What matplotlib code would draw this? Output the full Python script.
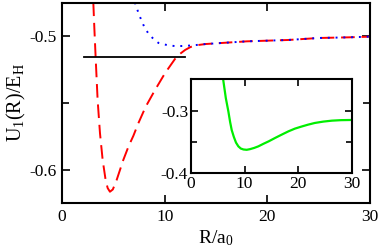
import matplotlib
matplotlib.use('Agg')
import matplotlib.pyplot as plt

plt.rcParams['font.family'] = ['Liberation Serif', 'DejaVu Serif']
plt.rcParams['mathtext.fontset'] = 'custom'
plt.rcParams['mathtext.rm'] = 'Liberation Serif'
plt.rcParams['mathtext.it'] = 'Liberation Serif:italic'

# red dashed curve (main panel)
r_red = [3.05, 3.15, 3.28, 3.47, 3.70, 3.96, 4.25, 4.45, 4.67, 4.95, 5.32,
         5.97, 6.5, 6.95, 7.43, 8.15, 9.06, 10.03, 11.0, 11.5, 12.0, 12.5,
         13, 14, 15, 16, 18, 20, 22, 25, 28, 30]
u_red = [-0.475, -0.494, -0.5166, -0.5478, -0.5726, -0.5925, -0.6075,
         -0.6135, -0.6162, -0.6145, -0.6075, -0.5925, -0.582, -0.5745,
         -0.5652, -0.5528, -0.5403, -0.5278, -0.5172, -0.5133, -0.5104,
         -0.5083, -0.507, -0.506, -0.5055, -0.505, -0.504, -0.5035, -0.503,
         -0.5015, -0.501, -0.5005]

# blue dotted curve (main panel)
r_blue = [7.1, 7.5, 8, 8.4, 9, 9.4, 9.9, 10.5, 11.2, 12, 13, 14, 15, 16,
          18, 20, 22, 25, 28, 30]
u_blue = [-0.475, -0.484, -0.493, -0.498, -0.503, -0.5052, -0.5062, -0.5072,
          -0.5076, -0.5074, -0.5068, -0.506, -0.5055, -0.505, -0.504,
          -0.5035, -0.503, -0.5015, -0.501, -0.5005]

# black horizontal level
r_level = [2.1, 12.0]
u_level = [-0.516, -0.516]

# green curve (inset)
r_green = [6.0, 6.2, 6.5, 6.97, 7.3, 7.6, 8.0, 8.4, 8.84, 9.3, 9.8, 10.4, 11,
           11.8, 12.57, 13.5, 14.5, 15.7, 17, 18.2, 19.4, 20.6, 21.8, 23.1,
           24.7, 26.3, 28, 30]
u_green = [-0.25, -0.262, -0.280, -0.301, -0.318, -0.331, -0.342, -0.351,
           -0.357, -0.3605, -0.362, -0.3625, -0.3615, -0.3595, -0.357, -0.353,
           -0.349, -0.3436, -0.338, -0.333, -0.3287, -0.3255, -0.3225,
           -0.3197, -0.3175, -0.316, -0.3152, -0.3149]

fig = plt.figure(figsize=(3.82, 2.48), dpi=100)
W, H = 382, 248
ax = fig.add_axes([62 / W, 1 - 203 / H, (370 - 62) / W, (203 - 3) / H])

ax.plot(r_red, u_red, color='red', lw=1.4, dashes=(7, 3.5))
ax.plot(r_blue, u_blue, color='blue', lw=1.4, dashes=(1, 3))
ax.plot(r_level, u_level, color='black', lw=1.3)

ax.set_xlim(0, 30)
ax.set_ylim(-0.6246, -0.4754)
ax.set_xticks([0, 10, 20, 30])
ax.set_yticks([-0.6, -0.5])
ax.set_yticks([-0.55], minor=True)
ax.set_yticklabels(['-0.6', '-0.5'])
ax.tick_params(which='both', direction='in', top=True, right=True,
               labelsize=12.5, width=1.2, pad=4)
ax.tick_params(which='major', length=6)
ax.tick_params(which='minor', length=5)
for s in ax.spines.values():
    s.set_linewidth(1.5)
ax.set_xlabel('R/a$_\\mathregular{0}$', fontsize=14, labelpad=3)
ax.set_ylabel('U$_\\mathregular{1}$(R)/E$_\\mathregular{H}$', fontsize=14.5,
              labelpad=1)

ins = fig.add_axes([191 / W, 1 - 173.3 / H, (351.7 - 191) / W,
                    (173.3 - 79.3) / H])
ins.plot(r_green, u_green, color='#00ee00', lw=1.6)
ins.set_xlim(0, 30)
ins.set_ylim(-0.4, -0.25)
ins.set_xticks([0, 10, 20, 30])
ins.set_yticks([-0.4, -0.3])
ins.set_yticks([-0.35], minor=True)
ins.set_yticklabels(['-0.4', '-0.3'])
ins.tick_params(which='both', direction='in', top=True, right=True,
                labelsize=12.5, width=1.2, pad=2)
ins.tick_params(which='major', length=5)
ins.tick_params(which='minor', length=4)
for s in ins.spines.values():
    s.set_linewidth(1.5)

fig.savefig('out.png', dpi=100)
